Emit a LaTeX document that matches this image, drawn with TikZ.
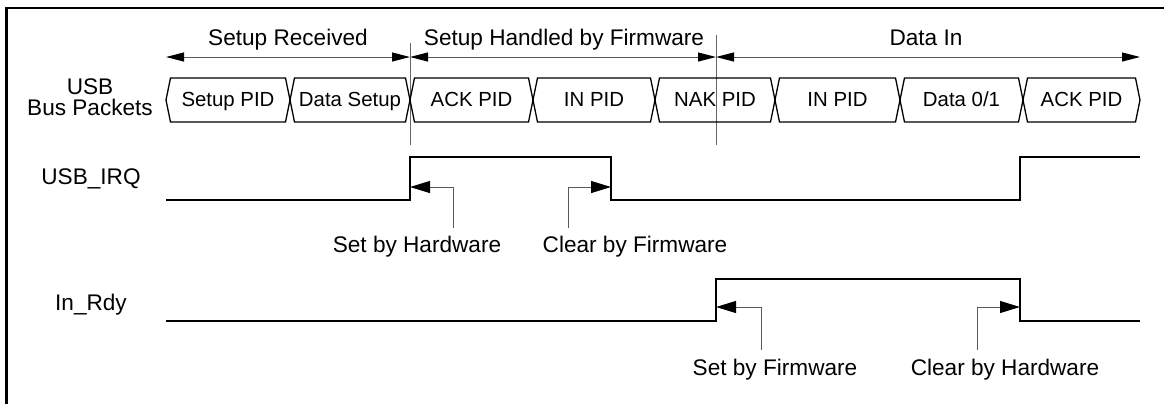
\documentclass[tikz,border=0pt]{standalone}
\usepackage{fontspec}
\setmainfont{Liberation Sans}
\usetikzlibrary{arrows.meta}

\begin{document}
\begin{tikzpicture}[x=0.5pt, y=-0.5pt,
  lbl/.style={font=\fontsize{11.3}{10.5}\selectfont, inner sep=0pt, anchor=base},
  pkttxt/.style={font=\fontsize{10.2}{10.2}\selectfont, inner sep=0pt, anchor=base},
  pkt/.style={line width=0.65pt, line join=miter},
  sig/.style={line width=1pt},
  guide/.style={draw=black!60, line width=0.5pt},
  phase/.style={draw=black!65, line width=0.5pt, {Triangle[length=9pt,width=4.5pt,black]}-{Triangle[length=9pt,width=4.5pt,black]}},
  note/.style={draw=black!65, line width=0.5pt, -{Triangle[length=10pt,width=6pt,black]}}]
\useasboundingbox (0,0) rectangle (1164,404);
\draw[line width=1.4pt] (6.5,404) |- (1164,8);

% phases
\coordinate (t0) at (166,57);
\coordinate (t1) at (410,57);
\coordinate (t2) at (716,57);
\coordinate (t3) at (1140,57);
\draw[phase] (t0) -- (t1);
\draw[phase] (t1) -- (t2);
\draw[phase] (t2) -- (t3);
\draw[guide] (410,43) -- (410,145);
\draw[guide] (716,35) -- (716,145);
\node[lbl] (ph1) at (288,45) {Setup Received};
\node[lbl] (ph2) at (564,45) {Setup Handled by Firmware};
\node[lbl] (ph3) at (926,45) {Data In};

% signal names
\node[lbl, anchor=center, align=center] (bus) at (90,97) {USB\\Bus Packets};
\node[lbl] (irq) at (91,184) {USB\_IRQ};
\node[lbl] (rdy) at (91,310) {In\_Rdy};

% bus packets
\draw[pkt] (166,100) -- (170.5,78) -- (285.5,78) -- (290,100) -- (285.5,122) -- (170.5,122) -- cycle;
\draw[pkt] (290,100) -- (294.5,78) -- (405.5,78) -- (410,100) -- (405.5,122) -- (294.5,122) -- cycle;
\draw[pkt] (410,100) -- (414.5,78) -- (528.5,78) -- (533,100) -- (528.5,122) -- (414.5,122) -- cycle;
\draw[pkt] (533,100) -- (537.5,78) -- (650.5,78) -- (655,100) -- (650.5,122) -- (537.5,122) -- cycle;
\draw[pkt] (655,100) -- (659.5,78) -- (770.5,78) -- (775,100) -- (770.5,122) -- (659.5,122) -- cycle;
\draw[pkt] (775,100) -- (779.5,78) -- (895.5,78) -- (900,100) -- (895.5,122) -- (779.5,122) -- cycle;
\draw[pkt] (900,100) -- (904.5,78) -- (1018.5,78) -- (1023,100) -- (1018.5,122) -- (904.5,122) -- cycle;
\draw[pkt] (1023,100) -- (1027.5,78) -- (1135.5,78) -- (1140,100) -- (1135.5,122) -- (1027.5,122) -- cycle;
\node[pkttxt] (p1) at (228,106) {Setup PID};
\node[pkttxt] (p2) at (350,106) {Data Setup};
\node[pkttxt] (p3) at (471.5,106) {ACK PID};
\node[pkttxt] (p4) at (594,106) {IN PID};
\node[pkttxt] (p5) at (715,106) {NAK PID};
\node[pkttxt] (p6) at (837.5,106) {IN PID};
\node[pkttxt] (p7) at (961.5,106) {Data 0/1};
\node[pkttxt] (p8) at (1081.5,106) {ACK PID};

% waveforms
\draw[sig] (166,200) -- (410,200) -- (410,157) -- (611,157) -- (611,200) -- (1020,200) -- (1020,157) -- (1140,157);
\draw[sig] (166,321) -- (716,321) -- (716,279) -- (1020,279) -- (1020,321) -- (1140,321);

% edge notes
\coordinate (irqset) at (410,187);
\coordinate (irqclr) at (611,187);
\coordinate (rdyset) at (716,307);
\coordinate (rdyclr) at (1020,307);
\coordinate (f1) at (453,228);
\coordinate (f2) at (568,228);
\coordinate (f3) at (761,350);
\coordinate (f4) at (977,350);
\node[lbl] (n1) at (417,252) {Set by Hardware};
\node[lbl] (n2) at (635,252) {Clear by Firmware};
\node[lbl] (n3) at (775,375) {Set by Firmware};
\node[lbl] (n4) at (1005,375) {Clear by Hardware};
\draw[note] (f1) |- (irqset);
\draw[note] (f2) |- (irqclr);
\draw[note] (f3) |- (rdyset);
\draw[note] (f4) |- (rdyclr);
\end{tikzpicture}
\end{document}
